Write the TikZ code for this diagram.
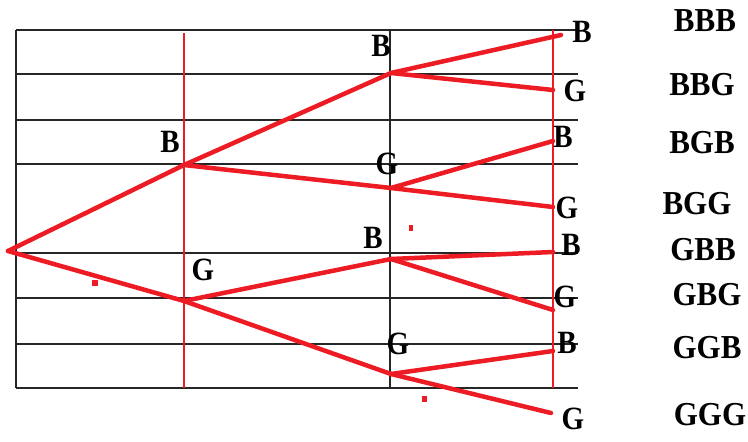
\documentclass[tikz,border=0pt]{standalone}
\usepackage{fontspec}
\setmainfont{Liberation Serif}
\definecolor{pred}{RGB}{237,28,36}
\tikzset{
  grid/.style={line width=1.6pt, black!85},
  rvert/.style={line width=1.3pt, pred},
  branch/.style={line width=4.5pt, pred, line cap=round},
  lbl/.style={inner sep=0pt, font=\bfseries\fontsize{29}{31}\selectfont, yscale=1.12},
  outc/.style={inner sep=0pt, font=\bfseries\fontsize{31}{33}\selectfont, yscale=1.08},
  speck/.style={fill=pred, draw=none}
}
\begin{document}
\begin{tikzpicture}[x=1pt,y=-1pt]
\useasboundingbox (0,0) rectangle (748,442);
% grid
\foreach \yy in {30,74,120,164,253,298,344,388}
  \draw[grid] (16,\yy) -- (578,\yy);
\draw[grid] (16,30) -- (16,388);
\draw[grid] (390,30) -- (390,388);
\draw[rvert] (184,33) -- (184,388);
\draw[rvert] (553,30) -- (553,388);
% tree points
\coordinate (r) at (8,251);
\coordinate (b1) at (184,165);
\coordinate (g1) at (184,301);
\coordinate (bb) at (391,73);
\coordinate (bg) at (391,188);
\coordinate (gb) at (391,259);
\coordinate (gg) at (391,374);
\coordinate (e1) at (561,35);
\coordinate (e2) at (553,90);
\coordinate (e3) at (553,141);
\coordinate (e4) at (553,207);
\coordinate (e5) at (553,252);
\coordinate (e6) at (553,310);
\coordinate (e7) at (553,351);
\coordinate (e8) at (551,413);
% branches
\draw[branch] (r) -- (b1);
\draw[branch] (r) -- (g1);
\draw[branch] (b1) -- (bb);
\draw[branch] (b1) -- (bg);
\draw[branch] (g1) -- (gb);
\draw[branch] (g1) -- (gg);
\draw[branch] (bb) -- (e1);
\draw[branch] (bb) -- (e2);
\draw[branch] (bg) -- (e3);
\draw[branch] (bg) -- (e4);
\draw[branch] (gb) -- (e5);
\draw[branch] (gb) -- (e6);
\draw[branch] (gg) -- (e7);
\draw[branch] (gg) -- (e8);
% specks
\fill[speck] (92,280) rectangle (98,286);
\fill[speck] (409,225) rectangle (413,231);
\fill[speck] (422,396) rectangle (427,402);
% tree labels
\node[lbl] (lb1) at (170,142) {B};
\node[lbl] (lg1) at (203,270) {G};
\node[lbl] (lbb) at (381,46) {B};
\node[lbl] (lbg) at (387,164) {G};
\node[lbl] (lgb) at (373,238) {B};
\node[lbl] (lgg) at (398,344) {G};
\node[lbl] (l1) at (582,32) {B};
\node[lbl] (l2) at (575,91) {G};
\node[lbl] (l3) at (563,137) {B};
\node[lbl] (l4) at (567,208) {G};
\node[lbl] (l5) at (571,245) {B};
\node[lbl] (l6) at (565,297) {G};
\node[lbl] (l7) at (567,343) {B};
\node[lbl] (l8) at (573,419) {G};
% outcomes
\node[outc] (o1) at (705,21) {BBB};
\node[outc] (o2) at (702,85) {BBG};
\node[outc] (o3) at (702,143) {BGB};
\node[outc] (o4) at (697,204) {BGG};
\node[outc] (o5) at (703,250) {GBB};
\node[outc] (o6) at (707,295) {GBG};
\node[outc] (o7) at (707,348) {GGB};
\node[outc] (o8) at (710,415) {GGG};
\end{tikzpicture}
\end{document}
